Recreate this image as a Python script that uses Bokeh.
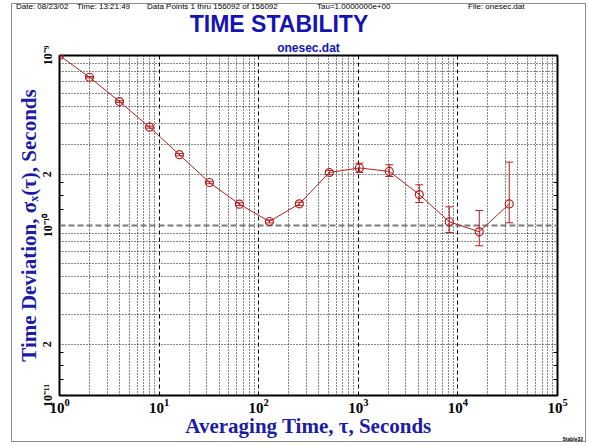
from bokeh.plotting import figure
from bokeh.layouts import column
from bokeh.models import (Range1d, FixedTicker, LogAxis, Whisker, TeeHead, Div,
                          ColumnDataSource)
from bokeh.embed import file_html
from bokeh.resources import INLINE

# ---------------- data ----------------
tau = [1, 2, 4, 8, 16, 32, 64, 128, 256, 512, 1024, 2048, 4096, 8192, 16384, 32768]
sigma = [1.0e-9, 7.45e-10, 5.36e-10, 3.79e-10, 2.61e-10, 1.79e-10, 1.335e-10, 1.056e-10,
         1.341e-10, 2.05e-10, 2.18e-10, 2.08e-10, 1.52e-10, 1.052e-10, 9.18e-11, 1.34e-10]
sigma_hi = [1.006e-9, 7.52e-10, 5.42e-10, 3.84e-10, 2.65e-10, 1.82e-10, 1.36e-10, 1.08e-10,
            1.37e-10, 2.11e-10, 2.325e-10, 2.275e-10, 1.735e-10, 1.288e-10, 1.225e-10, 2.36e-10]
sigma_lo = [0.994e-9, 7.38e-10, 5.30e-10, 3.74e-10, 2.57e-10, 1.76e-10, 1.31e-10, 1.035e-10,
            1.31e-10, 1.99e-10, 2.05e-10, 1.942e-10, 1.365e-10, 9.09e-11, 7.60e-11, 1.037e-10]

x_major = [1, 10, 100, 1000, 10000, 100000]
x_minor = [k * 10 ** n for n in range(5) for k in range(2, 10)]
y_major = [1e-11, 2e-11, 1e-10, 2e-10, 1e-9]
y_labels = {1e-11: "10\u207b\u00b9\u00b9", 2e-11: "2", 1e-10: "10\u207b\u00b9\u2070",
            2e-10: "2", 1e-9: "10\u207b\u2079"}
y_grid_major = [1e-11, 1e-10, 1e-9]
y_grid_minor = [k * 10.0 ** e for e in (-11, -10) for k in range(2, 10)]
y_axis_minor = [k * 10.0 ** e for e in (-11, -10) for k in (1.25, 1.5, 1.8)]

title_text = "TIME STABILITY"
subtitle_text = "onesec.dat"
header_items = [("Date: 08/23/02", 16), ("Time: 13:21:49", 77),
                ("Data Points 1 thru 156092 of 156092", 147),
                ("Tau=1.0000000e+00", 317), ("File: onesec.dat", 468)]
xlabel_text = "Averaging Time, \u03c4, Seconds"
ylabel_text = "Time Deviation, \u03c3\u2093(\u03c4), Seconds"
stamp_text = "Stable32"

RED = "#b41e1e"
BLUE_T = "#1414b4"
BLUE_L = "#1c1ca4"

OX, OY = 12, 4          # content origin inside the grey outer frame
W = 573
HEAD_H = 34
FIG_H = 403

# ---------------- header (HTML text) ----------------
spans = []
for t, X in header_items:
    spans.append(
        f'<span style="position:absolute;left:{X - OX}px;top:-0.8px;white-space:nowrap;'
        f'font:8px/8px \'Liberation Sans\',sans-serif;color:#000">{t}</span>')
spans.append(
    f'<span style="position:absolute;left:{279 - OX}px;top:12px;transform:translateX(-50%);'
    f'white-space:nowrap;font:bold 23px/17px \'Liberation Sans\',sans-serif;color:{BLUE_T}">'
    f'{title_text}</span>')
spans.append(
    f'<span style="position:absolute;left:{583 - OX}px;top:{437 - OY}px;z-index:20;'
    f'transform:translateX(-100%);white-space:nowrap;'
    f'font:bold 5px/5px \'Liberation Sans\',sans-serif;color:#000">{stamp_text}</span>')
head = Div(text='<div style="position:relative;width:%dpx;height:%dpx;overflow:visible">%s</div>'
           % (W, HEAD_H, "".join(spans)), width=W, height=HEAD_H, margin=0,
           styles={"overflow": "visible", "z-index": "5"})

# ---------------- figure ----------------
p = figure(width=W, height=FIG_H, x_axis_type="log", y_axis_type="log",
           x_range=Range1d(1, 1e5), y_range=Range1d(1e-11, 1e-9),
           output_backend="svg", toolbar_location=None, margin=0,
           min_border_left=47, min_border_right=28, min_border_top=17, min_border_bottom=46)
p.background_fill_color = "white"
p.border_fill_color = "white"
p.outline_line_color = "black"
p.outline_line_width = 2

p.title.text = subtitle_text
p.title.align = "center"
p.title.offset = -29
p.title.standoff = 1
p.title.text_font = "Liberation Sans"
p.title.text_font_style = "bold"
p.title.text_font_size = "12px"
p.title.text_color = BLUE_T

# x axis
xa = p.xaxis[0]
xa.ticker = FixedTicker(ticks=x_major, minor_ticks=x_minor)
xa.axis_line_color = None
xa.major_tick_in = 0
xa.major_tick_out = 0
xa.minor_tick_in = 0
xa.minor_tick_out = 0
xa.major_label_text_font = "Liberation Serif"
xa.major_label_text_font_style = "bold"
xa.major_label_text_font_size = "15px"
xa.major_label_text_color = "black"
xa.major_label_standoff = 3
xa.axis_label = xlabel_text
xa.axis_label_text_font = "Liberation Serif"
xa.axis_label_text_font_style = "bold"
xa.axis_label_text_font_size = "21px"
xa.axis_label_text_color = BLUE_L
xa.axis_label_standoff = -2

# y axis
ya = p.yaxis[0]
ya.ticker = FixedTicker(ticks=y_major, minor_ticks=y_axis_minor)
ya.major_label_overrides = y_labels
ya.axis_line_color = None
ya.major_tick_in = 0
ya.major_tick_out = 0
ya.minor_tick_in = 4
ya.minor_tick_out = 0
ya.minor_tick_line_color = "black"
ya.major_label_orientation = "vertical"
ya.major_label_text_font = "Liberation Serif"
ya.major_label_text_font_style = "bold"
ya.major_label_text_font_size = "12px"
ya.major_label_text_color = "black"
ya.major_label_standoff = 5
ya.axis_label = ylabel_text
ya.axis_label_text_font = "Liberation Serif"
ya.axis_label_text_font_style = "bold"
ya.axis_label_text_font_size = "21px"
ya.axis_label_text_color = BLUE_L
ya.axis_label_standoff = -3

ra = LogAxis(ticker=FixedTicker(ticks=[], minor_ticks=y_axis_minor), axis_line_color=None,
             major_tick_in=0, major_tick_out=0, minor_tick_in=4, minor_tick_out=0,
             minor_tick_line_color="black", major_label_text_font_size="0px")
p.add_layout(ra, "right")

# grids
p.xgrid.grid_line_color = "black"
p.xgrid.grid_line_dash = "4 3"
p.xgrid.grid_line_width = 1
p.xgrid.minor_grid_line_color = "#111111"
p.xgrid.minor_grid_line_dash = "1 2"
p.xgrid.minor_grid_line_width = 1

p.ygrid.ticker = FixedTicker(ticks=y_grid_major, minor_ticks=y_grid_minor)
p.ygrid.grid_line_color = "#7a7a7a"
p.ygrid.grid_line_dash = "6 3"
p.ygrid.grid_line_width = 2
p.ygrid.minor_grid_line_color = "#111111"
p.ygrid.minor_grid_line_dash = "1 2"
p.ygrid.minor_grid_line_width = 1

# data
src = ColumnDataSource(dict(tau=tau, sigma=sigma, hi=sigma_hi, lo=sigma_lo))
p.line("tau", "sigma", source=src, line_color=RED, line_width=1)
p.scatter("tau", "sigma", source=src, marker="circle", size=8, fill_color=None,
          line_color=RED, line_width=1.2)
wh = Whisker(base="tau", upper="hi", lower="lo", source=src, line_color=RED, line_width=1,
             upper_head=TeeHead(size=8, line_color=RED, line_width=1),
             lower_head=TeeHead(size=8, line_color=RED, line_width=1))
p.add_layout(wh)

root = column(head, p, margin=(3, 0, 0, 11), spacing=0,
              styles={"border": "1px solid #8c8c8c"})

open("out.html", "w").write(file_html(root, INLINE))
